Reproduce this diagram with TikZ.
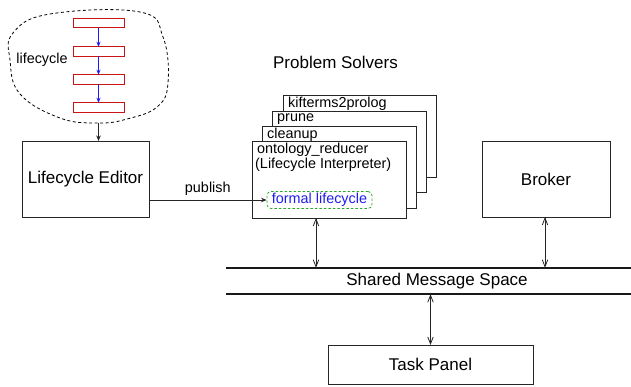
\documentclass[tikz,border=0pt]{standalone}
\usepackage{fontspec}
\setmainfont{Liberation Sans}
\usetikzlibrary{arrows.meta}
\definecolor{stepred}{RGB}{200,20,20}
\definecolor{flowblue}{RGB}{30,30,240}
\definecolor{dashgreen}{RGB}{40,170,40}
\tikzset{
  bigtxt/.style={font=\fontsize{17}{19.5}\selectfont},
  smalltxt/.style={font=\fontsize{14.4}{14.8}\selectfont},
  box/.style={draw=black!85, line width=0.9pt, fill=white, inner sep=0pt, outer sep=0pt},
  stepbox/.style={draw=stepred, line width=0.9pt, minimum width=51pt, minimum height=9.5pt, inner sep=0pt, outer sep=0pt},
  flow/.style={draw=flowblue, line width=0.8pt, -{Stealth[length=5pt,width=4pt]}},
  link/.style={draw=black!85, line width=0.8pt, -{Stealth[length=5.5pt,width=4.5pt]}},
  both/.style={draw=black!85, line width=0.8pt, {Straight Barb[length=7pt,width=5.5pt]}-{Straight Barb[length=7pt,width=5.5pt]}},
  bus/.style={draw=black!90, line width=1.5pt},
}
\begin{document}
\begin{tikzpicture}[x=1pt, y=-1pt]
  \useasboundingbox (0,0) rectangle (631,387);

  % informal lifecycle sketch
  \draw[dashed, line width=0.8pt, dash pattern=on 3pt off 2.5pt]
    plot[smooth cycle, tension=0.7] coordinates
    {(13,33) (50,14) (140,12) (163,37) (168,83) (157,107) (127,119) (98,123) (60,118) (20,94) (10,60)};
  \coordinate (cloudbot) at (98.5,123);
  \node[stepbox] (r1) at (98.5,23) {};
  \node[stepbox] (r2) at (98.5,51.5) {};
  \node[stepbox] (r3) at (98.5,79.5) {};
  \node[stepbox] (r4) at (98.5,107.5) {};
  \draw[flow] (r1) -- (r2);
  \draw[flow] (r2) -- (r3);
  \draw[flow] (r3) -- (r4);
  \node[smalltxt] (lclabel) at (42,60) {lifecycle};

  % editor
  \node[box, bigtxt, minimum width=127pt, minimum height=76pt] (editor) at (85.5,179) {Lifecycle Editor};
  \draw[link] (cloudbot) -- (editor.north -| r4);

  % problem solvers stack, back to front
  \node[bigtxt] (pstitle) at (335.5,62) {Problem Solvers};
  \node[box, minimum width=153pt, minimum height=82pt] (kif) at (359.5,136) {};
  \node[smalltxt, anchor=west, inner sep=0pt] (kiftxt) at ([shift={(5,9)}]kif.north west) {kifterms2prolog};
  \node[box, minimum width=154pt, minimum height=81pt] (prune) at (349,151.5) {};
  \node[smalltxt, anchor=west, inner sep=0pt] (prunetxt) at ([shift={(5,8.5)}]prune.north west) {prune};
  \node[box, minimum width=154pt, minimum height=82pt] (clean) at (339,167) {};
  \node[smalltxt, anchor=west, inner sep=0pt] (cleantxt) at ([shift={(5,8.5)}]clean.north west) {cleanup};
  \node[box, minimum width=154pt, minimum height=77pt] (front) at (329,179.5) {};
  \node[smalltxt, anchor=north west, align=left, inner sep=0pt] (fronttxt) at ([shift={(3,2)}]front.north west)
    {\hspace*{2pt}ontology\_reducer\\(Lifecycle Interpreter)};
  \node[smalltxt, text=flowblue, draw=dashgreen, dashed, dash pattern=on 2.5pt off 2pt, line width=0.8pt,
        rounded corners=4pt, minimum width=105pt, minimum height=17pt, inner sep=0pt] (formal) at (319.5,200) {formal lifecycle};
  \draw[link] (editor.east |- formal.west) -- node[smalltxt, above=1pt] (pubtxt) {publish} (formal.west);

  % broker
  \node[box, bigtxt, minimum width=128pt, minimum height=76pt] (broker) at (546,179) {Broker};

  % shared message space bus
  \node[minimum width=405pt, minimum height=26pt, inner sep=0pt] (bus) at (428.5,281) {};
  \node[bigtxt] (bustxt) at (437,281) {Shared Message Space};
  \draw[bus] (bus.north west) -- (bus.north east);
  \draw[bus] (bus.south west) -- (bus.south east);

  % task panel
  \node[box, bigtxt, minimum width=205pt, minimum height=39pt] (task) at (430.5,364.5) {Task Panel};

  % bus connections
  \draw[both] (front.south -| 316,0) -- (bus.north -| 316,0);
  \draw[both] (broker.south -| 545,0) -- (bus.north -| 545,0);
  \draw[both] (bus.south -| task.north) -- (task.north);
\end{tikzpicture}
\end{document}
